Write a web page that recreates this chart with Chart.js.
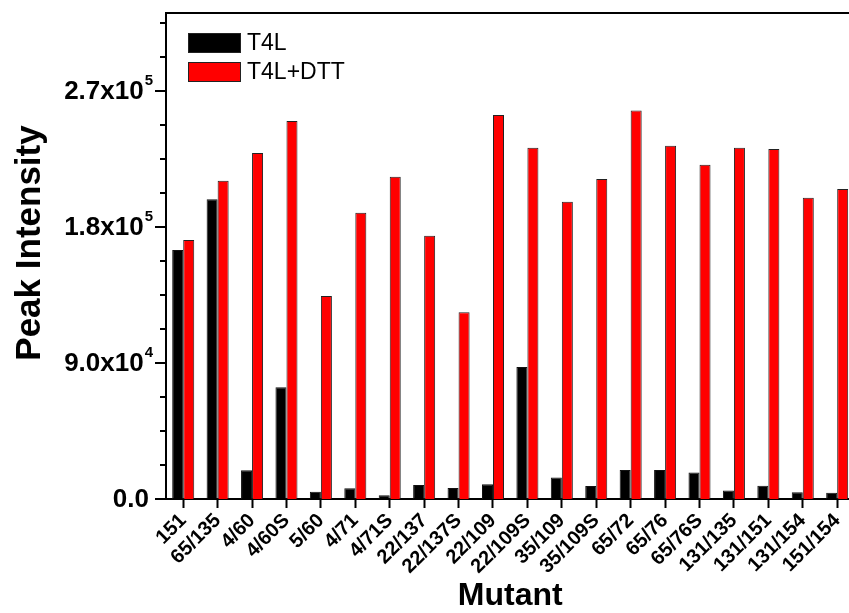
<!DOCTYPE html>
<html>
<head>
<meta charset="utf-8">
<script src="https://cdn.jsdelivr.net/npm/chart.js@4"></script>
<style>
  html, body { margin: 0; padding: 0; background: #fff; }
  #wrap { width: 849px; height: 613px; overflow: hidden; position: relative; }
  canvas { display: block; }
</style>
</head>
<body>
<div id="wrap"><canvas id="chart" width="870" height="613"></canvas></div>
<script>
// ---------- Data ----------
const mutants = ['151', '65/135', '4/60', '4/60S', '5/60', '4/71', '4/71S', '22/137', '22/137S',
  '22/109', '22/109S', '35/109', '35/109S', '65/72', '65/76', '65/76S', '131/135', '131/151',
  '131/154', '151/154'];
const t4l = [164800, 198300, 19000, 74000, 4800, 7100, 2400, 9300, 7300, 9700, 87400, 14300,
  8600, 19200, 19200, 17600, 5700, 8800, 4400, 4200];
const t4lDtt = [171400, 210600, 229000, 250200, 134300, 189500, 213300, 174200, 123500, 254100,
  232500, 196700, 211800, 257000, 233800, 221200, 232500, 231600, 199400, 205100];
const majorTicks = [0, 90000, 180000, 270000];
const majorLabels = [['0.0', ''], ['9.0x10', '4'], ['1.8x10', '5'], ['2.7x10', '5']];
const yMax = 321600;
const minorStep = 22500;

const FONT = 'Arial, "Liberation Sans", sans-serif';

// ---------- Plugin: top frame, y ticks + labels, y title, legend ----------
const decor = {
  id: 'decor',
  afterDraw(chart) {
    const ctx = chart.ctx;
    const area = chart.chartArea;
    const y = chart.scales.y;
    ctx.save();
    ctx.strokeStyle = '#000';
    ctx.lineWidth = 2;
    ctx.beginPath();
    ctx.moveTo(area.left - 1, area.top);
    ctx.lineTo(area.right + 20, area.top);
    ctx.stroke();

    // y ticks: long for majors, short for minors
    for (let v = 0; v <= yMax; v += minorStep) {
      const major = majorTicks.includes(v);
      const py = Math.round(y.getPixelForValue(v));
      ctx.lineWidth = 2;
      ctx.beginPath();
      ctx.moveTo(area.left - (major ? 11 : 6), py);
      ctx.lineTo(area.left, py);
      ctx.stroke();
    }

    // y tick labels with superscripts
    ctx.fillStyle = '#000';
    ctx.textBaseline = 'middle';
    majorTicks.forEach((v, i) => {
      const py = y.getPixelForValue(v);
      const [base, sup] = majorLabels[i];
      const right = 153;
      ctx.font = 'bold 15px ' + FONT;
      const supW = sup ? ctx.measureText(sup).width : 0;
      if (sup) {
        ctx.textAlign = 'right';
        ctx.fillText(sup, right, py - 10);
      }
      ctx.font = 'bold 26px ' + FONT;
      ctx.textAlign = 'right';
      ctx.fillText(base, right - supW - (sup ? 1 : 4), py + 1);
    });

    // y axis title
    ctx.save();
    ctx.translate(30, 243);
    ctx.rotate(-Math.PI / 2);
    ctx.textAlign = 'center';
    ctx.font = 'bold 35px ' + FONT;
    ctx.fillText('Peak Intensity', 0, 0);
    ctx.restore();

    // legend
    const items = chart.data.datasets;
    items.forEach((ds, i) => {
      const top = 33 + i * 29;
      ctx.fillStyle = ds.backgroundColor;
      ctx.fillRect(188, top, 53, 20);
      ctx.strokeStyle = '#222';
      ctx.lineWidth = 1;
      ctx.strokeRect(188.5, top + 0.5, 52, 19);
      ctx.fillStyle = '#000';
      ctx.font = '23px ' + FONT;
      ctx.textAlign = 'left';
      ctx.fillText(ds.label, 247, top + 11);
    });
    ctx.restore();
  }
};

new Chart(document.getElementById('chart'), {
  type: 'bar',
  data: {
    labels: mutants,
    datasets: [
      { label: 'T4L', data: t4l, backgroundColor: '#000000', borderColor: '#111', borderWidth: 1 },
      { label: 'T4L+DTT', data: t4lDtt, backgroundColor: '#ff0000', borderColor: '#222', borderWidth: 1 }
    ]
  },
  options: {
    responsive: false,
    animation: false,
    layout: { padding: { top: 13, right: 15.6, left: 0, bottom: 0 } },
    datasets: { bar: { barPercentage: 1, categoryPercentage: 0.64 } },
    plugins: { legend: { display: false }, tooltip: { enabled: false } },
    scales: {
      x: {
        offset: true,
        grid: { drawOnChartArea: false, offset: false, tickLength: 9, tickWidth: 2, tickColor: '#000' },
        border: { color: '#000', width: 2 },
        ticks: {
          autoSkip: false, minRotation: 45, maxRotation: 45, padding: 1,
          color: '#000', font: { family: FONT, size: 20, weight: 'bold' }
        },
        title: {
          display: true, text: 'Mutant', color: '#000',
          font: { family: FONT, size: 32, weight: 'bold', lineHeight: 1 },
          padding: { top: 0, bottom: 1 }
        },
        afterFit(s) { s.height = 114; s.paddingLeft = 0; s.paddingRight = 0; }
      },
      y: {
        min: 0, max: yMax,
        grid: { display: false },
        border: { color: '#000', width: 2 },
        ticks: { stepSize: 90000, includeBounds: false, callback: () => '' },
        afterFit(s) { s.width = 166; s.paddingTop = 0; s.paddingBottom = 0; }
      }
    }
  },
  plugins: [decor]
});
</script>
</body>
</html>
